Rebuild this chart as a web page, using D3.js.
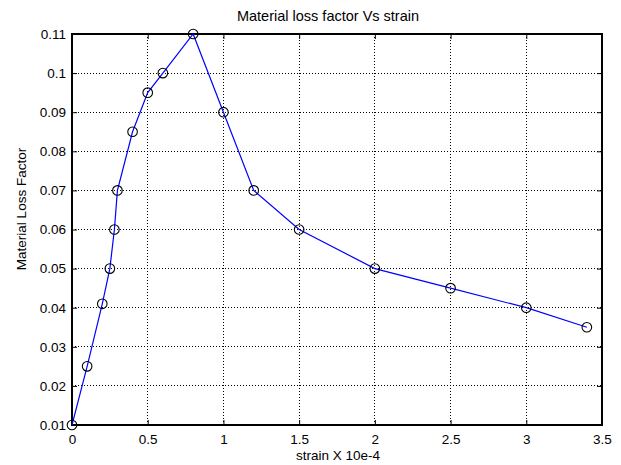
<!DOCTYPE html>
<html><head><meta charset="utf-8">
<script src="https://cdn.jsdelivr.net/npm/d3@7"></script>
<style>body{margin:0;background:#fff}svg{display:block}text{font-family:"Liberation Sans",Arial,sans-serif}</style>
</head><body><svg id="c" width="621" height="465"></svg>
<script>
const strain = [0,0.1,0.2,0.25,0.28,0.3,0.4,0.5,0.6,0.8,1,1.2,1.5,2,2.5,3,3.4];
const lossFactor = [0.01,0.025,0.041,0.05,0.06,0.07,0.085,0.095,0.1,0.11,0.09,0.07,0.06,0.05,0.045,0.04,0.035];
const xTicks = [0,0.5,1,1.5,2,2.5,3,3.5];
const yTicks = [0.01,0.02,0.03,0.04,0.05,0.06,0.07,0.08,0.09,0.1,0.11];
const data = strain.map((s,i)=>({x:s,y:lossFactor[i]}));

const svg = d3.select("#c");
const m = {l:72,r:602,t:34,b:425};
const x = d3.scaleLinear().domain([0,3.5]).range([m.l,m.r]);
const y = d3.scaleLinear().domain([0.01,0.11]).range([m.b,m.t]);

// grid
const g = svg.append("g");
g.selectAll(".gx").data(xTicks.slice(1,-1)).join("line")
 .attr("x1",d=>x(d)).attr("x2",d=>x(d)).attr("y1",m.t).attr("y2",m.b)
 .attr("stroke","#000").attr("stroke-width",1).attr("stroke-dasharray","1,2").attr("shape-rendering","crispEdges");
g.selectAll(".gy").data(yTicks.slice(1,-1)).join("line")
 .attr("y1",d=>y(d)).attr("y2",d=>y(d)).attr("x1",m.l).attr("x2",m.r)
 .attr("stroke","#000").attr("stroke-width",1).attr("stroke-dasharray","1,2").attr("shape-rendering","crispEdges");

// axes
const xa = svg.append("g").attr("transform",`translate(0,${m.b})`)
 .call(d3.axisBottom(x).tickValues(xTicks).tickFormat(d3.format("")).tickSizeInner(-5).tickSizeOuter(0).tickPadding(9));
const xaT = svg.append("g").attr("transform",`translate(0,${m.t})`)
 .call(d3.axisTop(x).tickValues(xTicks).tickFormat("").tickSizeInner(-5).tickSizeOuter(0));
const ya = svg.append("g").attr("transform",`translate(${m.l},0)`)
 .call(d3.axisLeft(y).tickValues(yTicks).tickFormat(d3.format("")).tickSizeInner(-5).tickSizeOuter(0).tickPadding(6));
const yaR = svg.append("g").attr("transform",`translate(${m.r},0)`)
 .call(d3.axisRight(y).tickValues(yTicks).tickFormat("").tickSizeInner(-5).tickSizeOuter(0));
[xa,xaT,ya,yaR].forEach(a=>{
  a.select(".domain").remove();
  a.selectAll("line").attr("stroke","#000");
  a.selectAll("text").attr("font-size",13.5).attr("fill","#000").attr("font-family","Liberation Sans, Arial, sans-serif");
});
svg.append("rect").attr("x",m.l).attr("y",m.t).attr("width",m.r-m.l).attr("height",m.b-m.t)
 .attr("fill","none").attr("stroke","#000").attr("stroke-width",2);

// line
svg.append("path").datum(data)
 .attr("d",d3.line().x(d=>x(d.x)).y(d=>y(d.y)))
 .attr("fill","none").attr("stroke","#0000ff").attr("stroke-width",1.2);
svg.selectAll(".pt").data(data).join("circle")
 .attr("cx",d=>x(d.x)).attr("cy",d=>y(d.y)).attr("r",4.8)
 .attr("fill","none").attr("stroke","#000").attr("stroke-width",1.1);

// labels
svg.append("text").attr("x",328).attr("y",21).attr("text-anchor","middle")
 .attr("font-size",14.5).text("Material loss factor Vs strain");
svg.append("text").attr("x",338).attr("y",460).attr("text-anchor","middle")
 .attr("font-size",13.5).text("strain X 10e-4");
svg.append("text").attr("transform",`translate(26,209) rotate(-90)`).attr("text-anchor","middle")
 .attr("font-size",13.5).text("Material Loss Factor");
</script></body></html>
